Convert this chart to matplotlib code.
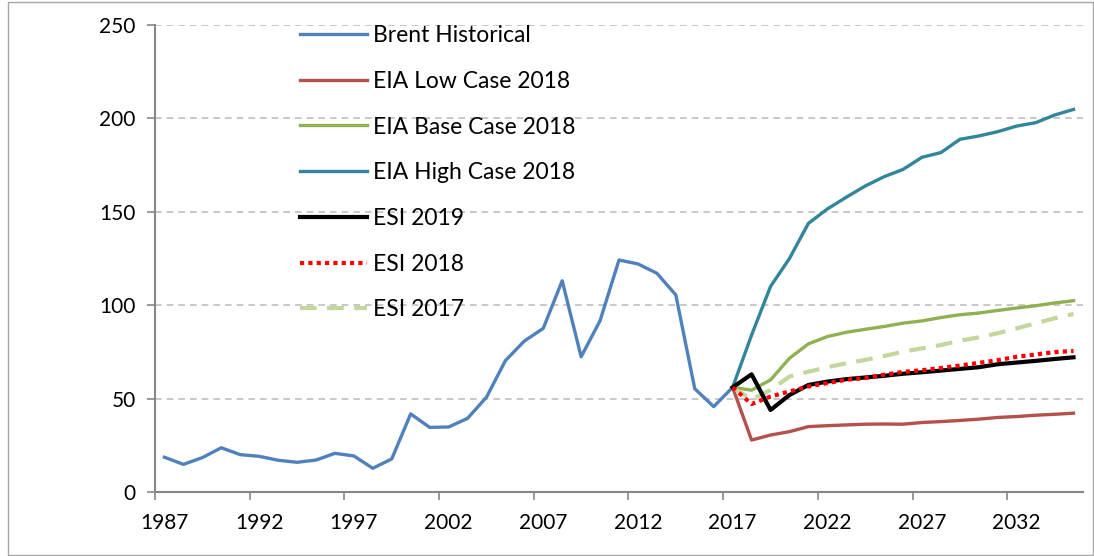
"""Brent oil price history and forecast scenarios (EIA 2018 cases vs ESI outlooks)."""

import matplotlib
matplotlib.use("Agg")
import matplotlib.pyplot as plt
from matplotlib.patches import Rectangle

plt.rcParams['font.family'] = ['Lato', 'DejaVu Sans']

# historical Brent, 1987-2017
hist_years = list(range(1987, 2018))
brent_hist = [18.6, 14.8, 18.4, 23.7, 20.0, 19.1, 17.0, 15.9, 17.1, 20.7,
              19.3, 12.7, 17.7, 41.8, 34.6, 34.8, 39.4, 50.7, 70.3, 80.8,
              87.6, 113.1, 72.4, 91.7, 124.2, 122.1, 117.1, 105.5, 55.3, 45.7,
              56.0]

# forecasts, 2017-2035
fc_years = list(range(2017, 2036))
eia_low = [56.0, 27.8, 30.5, 32.3, 35.0, 35.5, 35.9, 36.3, 36.4, 36.3,
           37.2, 37.7, 38.3, 39.0, 39.9, 40.4, 41.1, 41.6, 42.2]
eia_base = [56.0, 54.5, 60.0, 71.6, 79.3, 83.2, 85.5, 87.1, 88.6, 90.4,
            91.6, 93.4, 94.9, 95.8, 97.2, 98.5, 99.7, 101.2, 102.4]
eia_high = [56.0, 84.0, 110.0, 125.0, 143.8, 151.5, 157.8, 163.8, 168.8, 172.7,
            179.2, 181.7, 188.8, 190.6, 192.9, 195.9, 197.7, 201.8, 204.8]
esi_2019 = [56.0, 63.0, 43.9, 51.9, 57.3, 59.1, 60.4, 61.3, 62.2, 63.3,
            64.1, 65.0, 65.9, 66.8, 68.4, 69.3, 70.2, 71.2, 72.1]
esi_2018 = [56.0, 47.1, 51.1, 53.8, 56.5, 58.3, 60.1, 61.0, 62.8, 64.3,
            65.2, 66.4, 67.7, 69.1, 70.6, 72.4, 73.6, 74.9, 75.5]
esi_2017 = [56.0, 49.5, 54.6, 61.8, 64.4, 66.8, 68.9, 70.7, 72.8, 75.1,
            76.9, 78.7, 81.0, 82.8, 85.0, 87.6, 90.3, 93.0, 95.3]

label_years = list(range(1987, 2033, 5))

fig = plt.figure(figsize=(10.94, 5.56), dpi=100)
ax = fig.add_axes([155 / 1094, 1 - 492 / 556, 928 / 1094, 467 / 556])

# outer chart border
fig.patches.append(Rectangle((8 / 1094, 1 / 556), 1085 / 1094, 553 / 556,
                             transform=fig.transFigure, fill=False,
                             edgecolor='#a6a6a6', linewidth=1.0))

ax.plot(hist_years, brent_hist, color='#4f81bd', lw=2.4, label='Brent Historical', zorder=3)
ax.plot(fc_years, eia_low, color='#b5504d', lw=2.4, label='EIA Low Case 2018', zorder=3)
ax.plot(fc_years, eia_base, color='#8fb14f', lw=2.4, label='EIA Base Case 2018', zorder=3)
ax.plot(fc_years, eia_high, color='#31869b', lw=2.4, label='EIA High Case 2018', zorder=3)
ax.plot(fc_years, esi_2019, color='black', lw=3.0, label='ESI 2019', zorder=5)
ax.plot(fc_years, esi_2018, color='#ff0000', lw=3.0, ls=(0, (1, 1)), label='ESI 2018', zorder=6)
ax.plot(fc_years, esi_2017, color='#c3d69b', lw=3.0, ls=(0, (4, 2.5)), label='ESI 2017', zorder=4)

ax.set_xlim(1986.5, 2035.5)
ax.set_ylim(0, 250)
ax.set_yticks(range(0, 251, 50))
ax.set_xticks([y - 0.5 for y in label_years])
ax.set_xticklabels([])
ax.set_xticks(label_years, minor=True)
ax.set_xticklabels([str(y) for y in label_years], minor=True)

ax.tick_params(axis='x', which='major', length=6, width=1.2, color='#868686', direction='out')
ax.tick_params(axis='x', which='minor', length=0, labelsize=15, pad=15)
ax.tick_params(axis='y', length=6, width=1.2, color='#868686', labelsize=15, pad=8)

ax.grid(axis='y', color='#bfbfbf', ls=(0, (4, 3)), lw=1.2)
ax.set_axisbelow(True)
for side in ('top', 'right'):
    ax.spines[side].set_visible(False)
for side in ('left', 'bottom'):
    ax.spines[side].set_color('#868686')
    ax.spines[side].set_linewidth(1.5)

ax.legend(loc='upper left', bbox_to_anchor=(145 / 928, 1.0), frameon=False,
          fontsize=16.5, handlelength=2.93, handletextpad=0.26, labelspacing=1.08,
          borderpad=0, borderaxespad=0)

fig.savefig('out.png', dpi=100)
